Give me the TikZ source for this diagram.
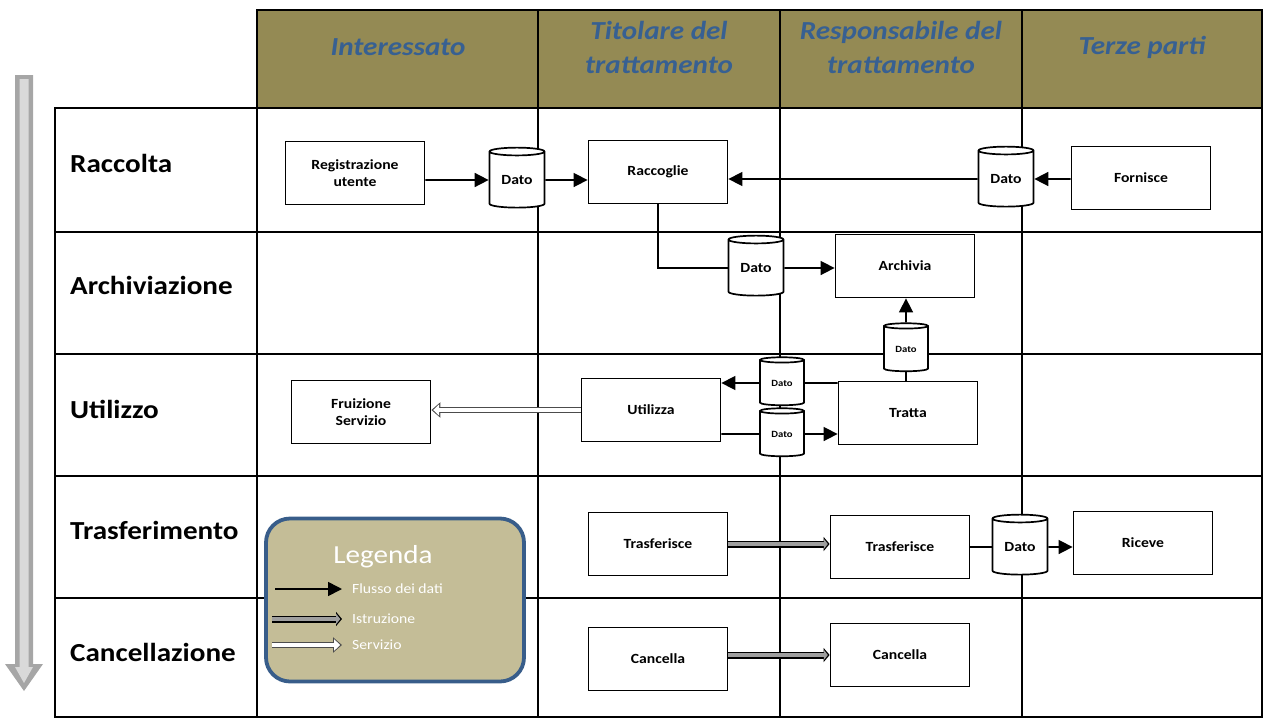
\documentclass[tikz,border=0pt]{standalone}
\usepackage{fontspec}
\setmainfont{Carlito}[FakeStretch=1.12]
\usepackage{xcolor}
\usepackage{tikz}
\usetikzlibrary{shapes, arrows.meta, positioning}

\definecolor{headolive}{RGB}{148,138,84}
\definecolor{headblue}{RGB}{55,96,146}
\definecolor{legfill}{RGB}{196,189,151}
\definecolor{legborder}{RGB}{56,93,138}
\definecolor{bararrow}{RGB}{166,166,166}
\definecolor{barlight}{RGB}{217,217,217}

\begin{document}
\begin{tikzpicture}[x=1pt, y=-1pt,
    grid/.style={line width=2pt},
    fase/.style={anchor=west, inner sep=0pt, font=\fontsize{26}{30}\selectfont\bfseries},
    ruolo/.style={align=center, text=headblue, font=\fontsize{26}{34}\selectfont\bfseries\itshape},
    attivita/.style={draw, line width=1.8pt, fill=white, minimum width=139pt, minimum height=63pt, align=center, font=\fontsize{14}{17}\selectfont\bfseries},
    dato/.style={cylinder, shape border rotate=90, draw, line width=1.7pt, fill=white, aspect=0.25, minimum width=55pt, minimum height=60pt, inner sep=0pt, font=\fontsize{14}{16}\selectfont\bfseries},
    datino/.style={dato, minimum width=44pt, minimum height=48pt, font=\fontsize{9.5}{11}\selectfont\bfseries},
    legame/.style={line width=1.6pt},
    flow/.style={legame, -{Triangle[length=14pt,width=14pt]}},
    istr/.style={line width=7pt, -{Triangle[length=6pt,width=14pt]},
        postaction={draw=gray!75, line width=4pt, shorten >=1.8pt, -{Triangle[length=4pt,width=10pt]}}},
    serv/.style={draw=gray!60!black, line width=6pt, -{Triangle[length=9pt,width=15pt]},
        postaction={draw=white, line width=3.8pt, shorten >=1.8pt, -{Triangle[length=6pt,width=11pt]}}},
    legenda/.style={draw=legborder, line width=3.8pt, fill=legfill, rounded corners=24pt, minimum width=258pt, minimum height=163pt},
    legvoce/.style={anchor=west, inner sep=0pt, text=white, font=\fontsize{14}{16}\selectfont}
  ]
  \useasboundingbox (0,0) rectangle (1266,718);

  % freccia del ciclo di vita
  \fill[bararrow] (15,75) -- (33,75) -- (33,664) -- (43,664) -- (24,691) -- (5,664) -- (15,664) -- cycle;
  \fill[barlight] (19.5,79) -- (28.5,79) -- (28.5,667) -- (33,667) -- (24,683) -- (15,667) -- (19.5,667) -- cycle;

  % tabella
  \fill[headolive] (257,10) rectangle (1262,108);
  \draw[grid] (257,10) rectangle (1262,717);
  \draw[grid] (55,108) rectangle (257,717);
  \foreach \y in {108,232,354,476,598}
    \draw[grid] (55,\y) -- (1262,\y);
  \foreach \x in {538,780,1022}
    \draw[grid] (\x,10) -- (\x,717);

  \node[ruolo] (interessato) at (398,47) {Interessato};
  \node[ruolo] (titolare) at (659,47) {Titolare del\\trattamento};
  \node[ruolo] (responsabile) at (901,47) {Responsabile del\\trattamento};
  \node[ruolo] (terze) at (1142,47) {Terze parti};

  \node[fase] (raccolta) at (70,163) {Raccolta};
  \node[fase] (archiviazione) at (70,285) {Archiviazione};
  \node[fase] (utilizzo) at (70,409) {Utilizzo};
  \node[fase] (trasferimento) at (70,530) {Trasferimento};
  \node[fase] (cancellazione) at (70,652) {Cancellazione};

  % raccolta
  \node[attivita] (registrazione) at (355,173) {Registrazione\\utente};
  \node[dato] (dato1) at (517,180) {Dato};
  \node[attivita] (raccoglie) at (658,172) {Raccoglie};
  \node[dato] (dato2) at (1006,179) {Dato};
  \node[attivita] (fornisce) at (1141,178) {Fornisce};
  \draw[flow] (registrazione.east |- dato1) -- (dato1);
  \draw[flow] (dato1) -- (dato1 -| raccoglie.west);
  \draw[flow] (fornisce.west |- dato2) -- (dato2);
  \draw[flow] (dato2) -- (dato2 -| raccoglie.east);

  % archiviazione
  \node[dato] (dato3) at (756,268) {Dato};
  \node[attivita] (archivia) at (905,266) {Archivia};
  \node[datino] (dato4) at (906,349) {Dato};
  \draw[legame] (raccoglie) |- (dato3);
  \draw[flow] (dato3) -- (dato3 -| archivia.west);
  \draw[flow] (dato4) -- (dato4 |- archivia.south);

  % utilizzo
  \node[attivita] (tratta) at (908,413) {Tratta};
  \node[attivita] (utilizza) at (651,410) {Utilizza};
  \node[attivita] (fruizione) at (361,412) {Fruizione\\Servizio};
  \node[datino] (dato5) at (782,383) {Dato};
  \node[datino] (dato6) at (782,434) {Dato};
  \draw[legame] (tratta.north -| dato4) -- (dato4);
  \draw[legame] (tratta.west |- dato5) -- (dato5);
  \draw[flow] (dato5) -- (dato5 -| utilizza.east);
  \draw[legame] (utilizza.east |- dato6) -- (dato6);
  \draw[flow] (dato6) -- (dato6 -| tratta.west);
  \draw[serv] (utilizza.west) -- (utilizza.west -| fruizione.east);

  % trasferimento
  \node[attivita] (trasf1) at (658,544) {Trasferisce};
  \node[attivita] (trasf2) at (900,547) {Trasferisce};
  \node[dato] (dato7) at (1020,547) {Dato};
  \node[attivita] (riceve) at (1143,543) {Riceve};
  \draw[istr] (trasf1.east) -- (trasf1.east -| trasf2.west);
  \draw[legame] (trasf2) -- (dato7);
  \draw[flow] (dato7) -- (dato7 -| riceve.west);

  % cancellazione
  \node[attivita] (cancella1) at (658,659) {Cancella};
  \node[attivita] (cancella2) at (900,655) {Cancella};
  \draw[istr] (cancella2.west -| cancella1.east) -- (cancella2.west);

  % legenda
  \node[legenda] (legenda) at (395,600) {};
  \node[text=white, font=\fontsize{26}{30}\selectfont] (legtitolo) at (383,557) {Legenda};
  \node[legvoce] (vflusso) at (352,589) {Flusso dei dati};
  \node[legvoce] (vistr) at (352,619) {Istruzione};
  \node[legvoce] (vserv) at (352,645) {Servizio};
  \coordinate (lflusso) at (275,589);
  \coordinate (listr) at (272,619);
  \coordinate (lserv) at (272,645);
  \draw[flow] (lflusso) -- ([xshift=-10pt]vflusso.west);
  \draw[istr] (listr) -- ([xshift=-10pt]vistr.west);
  \draw[serv] (lserv) -- ([xshift=-10pt]vserv.west);
\end{tikzpicture}
\end{document}
